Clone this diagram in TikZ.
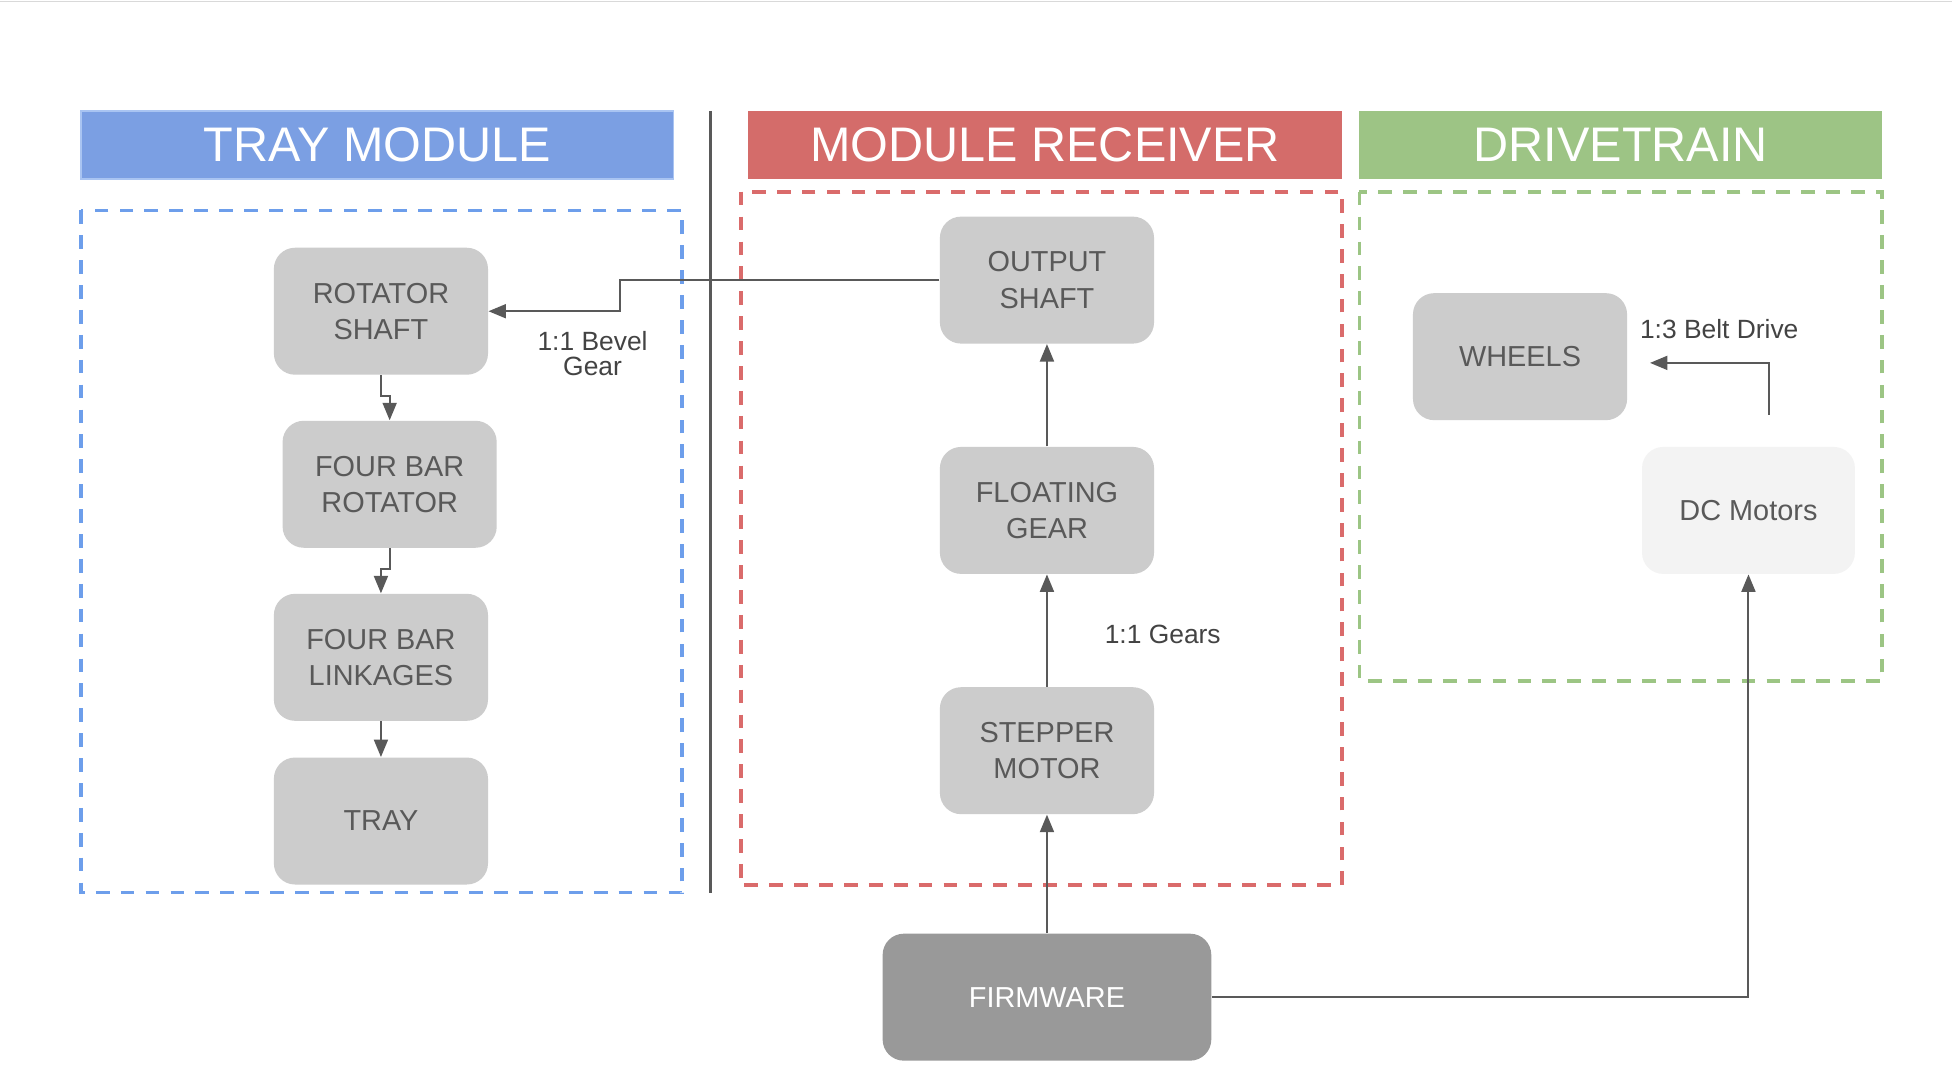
\documentclass[tikz,border=0pt]{standalone}
\usepackage{fontspec}
\setmainfont{Liberation Sans}
\usetikzlibrary{arrows.meta}
\definecolor{hblue}{HTML}{7B9FE3}
\definecolor{hblueb}{HTML}{A9C4F2}
\definecolor{hred}{HTML}{D46C6A}
\definecolor{hgreen}{HTML}{9DC485}
\definecolor{dblue}{HTML}{6D9EEB}
\definecolor{dred}{HTML}{DA6B6B}
\definecolor{dgreen}{HTML}{9CC584}
\definecolor{nodegray}{HTML}{CCCCCC}
\definecolor{txtgray}{HTML}{595959}
\definecolor{lblgray}{HTML}{434343}
\definecolor{linegray}{HTML}{595959}
\definecolor{fwgray}{HTML}{999999}
\definecolor{dcgray}{HTML}{F3F3F3}
\tikzset{
  box/.style={rounded corners=8.5pt, fill=nodegray, text=txtgray, align=center,
    minimum width=86pt, minimum height=51pt, inner sep=0pt,
    font=\fontsize{11.6}{14.5}\selectfont},
  hdr/.style={text=white, inner sep=0pt, minimum height=27.5pt,
    font=\fontsize{19.5}{22}\selectfont},
  zone/.style={dash pattern=on 5.5pt off 4.5pt, line width=1.5pt},
  conn/.style={draw=linegray, line width=0.8pt, -{Triangle[length=7pt,width=5.6pt]}},
  lbl/.style={text=lblgray, align=center, inner sep=0pt,
    font=\fontsize{10.6}{10}\selectfont}
}
\begin{document}
\begin{tikzpicture}[x=0.5pt,y=-0.5pt]
\useasboundingbox (0,0) rectangle (1568,875.57);
\fill[white] (0,0) rectangle (1568,875.57);
\draw[color=black!15, line width=0.6pt] (0,1) -- (1568,1);

% headers
\node[hdr, fill=hblue, draw=hblueb, line width=0.8pt, minimum width=238pt] (hTM) at (303,116.5) {TRAY MODULE};
\node[hdr, fill=hred, minimum width=238.5pt] (hMR) at (839.5,116.5) {MODULE RECEIVER};
\node[hdr, fill=hgreen, minimum width=210pt] (hDT) at (1302,116.5) {DRIVETRAIN};

% separator
\draw[color=linegray, line width=1.3pt] (571,89) -- (571,717);

% dashed zones
\draw[zone, color=dblue] (65,169) rectangle (548,717);
\draw[zone, color=dred] (595,154) rectangle (1078,711);
\draw[zone, color=dgreen] (1092,154) rectangle (1512,547);

% nodes
\node[box] (rs) at (306,250) {ROTATOR\\SHAFT};
\node[box] (fbr) at (313,389) {FOUR BAR\\ROTATOR};
\node[box] (fbl) at (306,528) {FOUR BAR\\LINKAGES};
\node[box] (tray) at (306,659.5) {TRAY};
\node[box] (os) at (841,225) {OUTPUT\\SHAFT};
\node[box] (fg) at (841,410) {FLOATING\\GEAR};
\node[box] (sm) at (841,603) {STEPPER\\MOTOR};
\node[box, fill=fwgray, text=white, minimum width=132pt] (fw) at (841,801) {FIRMWARE};
\node[box] (wh) at (1221,286.5) {WHEELS};
\node[box, fill=dcgray, minimum width=85.5pt] (dc) at (1404.5,410) {DC Motors};

% connectors
\draw[conn] (os.west) -- (498,225) |- (rs.east);
\draw[conn] (rs.south) -- ++(0,17) -| (fbr.north);
\draw[conn] (fbr.south) -- ++(0,17) -| (fbl.north);
\draw[conn] (fbl.south) -- (tray.north);
\draw[conn] (fg.north) -- (os.south);
\draw[conn] (sm.north) -- (fg.south);
\draw[conn] (fw.north) -- (sm.south);
\draw[conn] (fw.east) -| (dc.south);
\coordinate (beltstart) at (1421,333);
\draw[conn] (beltstart) |- ([xshift=9pt,yshift=-2.5pt]wh.east);

% labels
\node[lbl] (lbev) at (476,284) {1:1 Bevel\\Gear};
\node[lbl] (lgears) at (934,510) {1:1 Gears};
\node[lbl] (lbelt) at (1381,264) {1:3 Belt Drive};
\end{tikzpicture}
\end{document}
